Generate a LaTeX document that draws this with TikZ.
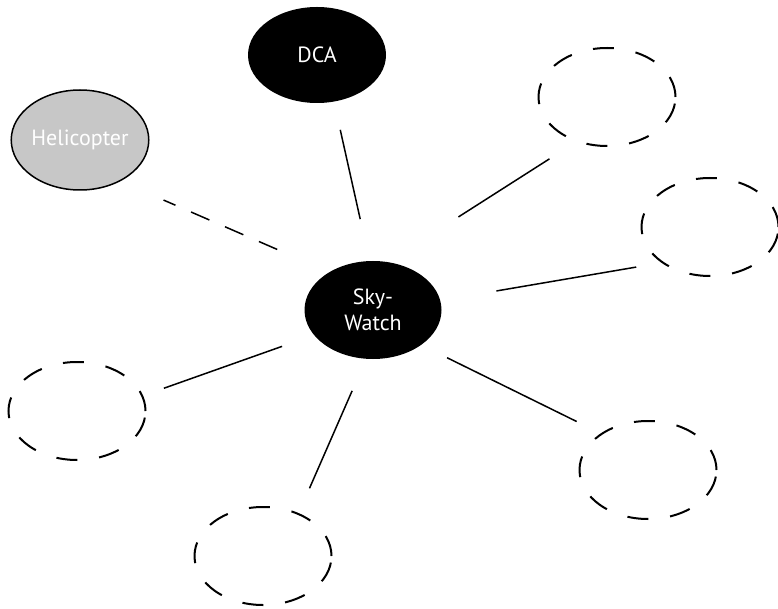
\documentclass[tikz,border=0pt]{standalone}
\usepackage{fontspec}
\setmainfont{PT Sans}
\usetikzlibrary{shapes.geometric}
\tikzset{
  ovalo/.style={ellipse,outer sep=0pt,inner sep=0pt,minimum width=137pt,minimum height=98pt,
    align=center,text=white,font=\fontsize{22}{26}\selectfont},
  negro/.style={ovalo,fill=black},
  gris/.style={ovalo,draw=black,line width=1.5pt,fill=black!22},
  vacio/.style={ovalo,draw=black,line width=2pt,dash pattern=on 21pt off 22pt},
  enlace/.style={line width=1.5pt,line cap=butt}
}

\begin{document}
\begin{tikzpicture}[x=1pt,y=-1pt]
	\useasboundingbox (0,0) rectangle (778,609);

	\node[negro] (sky) at (373,310) {Sky-\\Watch};
	\node[negro,minimum width=138pt,minimum height=96pt] (dca) at (317,55) {DCA};
	\node[gris,minimum height=100pt] (heli) at (80,140) {Helicopter};

	\draw[enlace,shorten <=29pt,shorten >=43pt] (dca.-70) -- (sky.94);
	\draw[enlace,dash pattern=on 20pt off 17pt,dash phase=7pt,shorten <=48pt,shorten >=57pt] (heli.-46) -- (sky.139);

	% empty slots around the centre
	\foreach \Nombre/\Pos/\Sale/\Llega/\Ini/\Fin in {arriba/{(607,97)}/73/-124/84/33,
	    derecha/{(710,227)}/8/-143/57/27,
	    izquierda/{(77,411)}/-157/13/34/23,
	    abajo/{(263,556)}/-98/50/35/28,
	    abajoder/{(648,470)}/-36/142/29/28} {
		\node[vacio] (\Nombre) at \Pos {};
		\draw[enlace,shorten <=\Ini pt,shorten >=\Fin pt] (sky.\Sale) -- (\Nombre.\Llega);
	}
\end{tikzpicture}
\end{document}
